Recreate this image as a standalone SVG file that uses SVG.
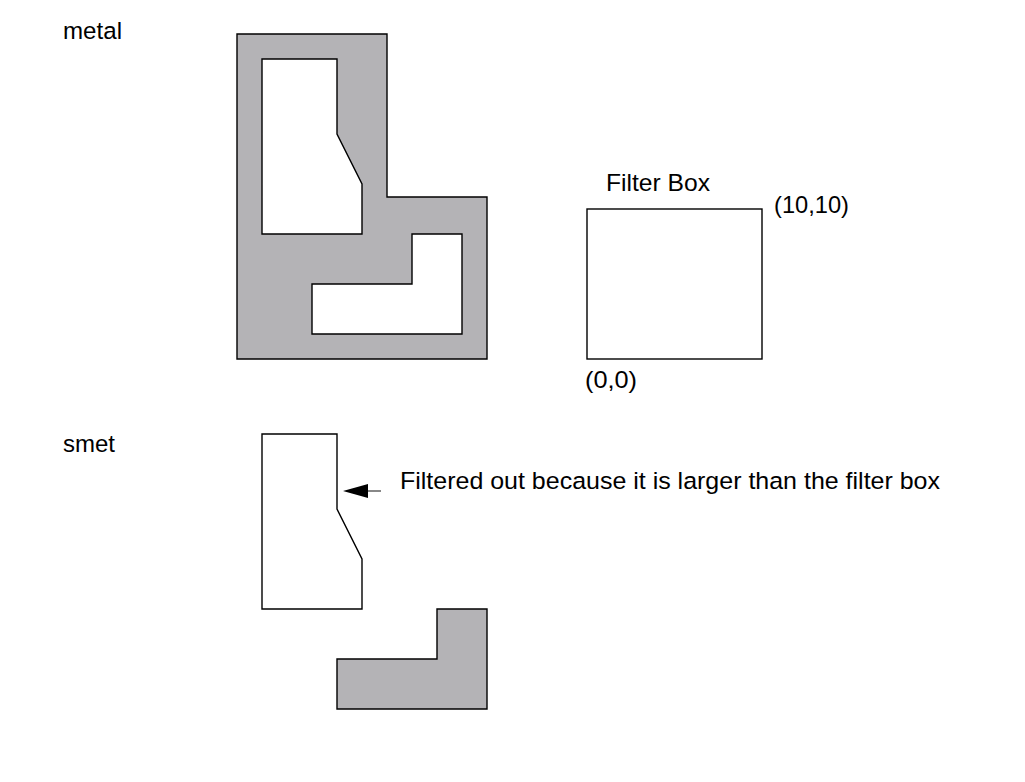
<svg xmlns="http://www.w3.org/2000/svg" width="1025" height="782" viewBox="0 0 1025 782">
<defs>
<style>
.lbl{font-family:"Liberation Sans",Arial,sans-serif;font-size:24.5px;fill:#000}
.shape{stroke:#000;stroke-width:1.4;stroke-linejoin:miter}
.metal{fill:#b4b3b6}
.white{fill:#fff}
</style>
</defs>
<rect width="1025" height="782" fill="#fff"/>
<g id="metal-label"><text class="lbl" x="63" y="39" textLength="59" lengthAdjust="spacingAndGlyphs">metal</text></g>
<g id="metal">
<path class="shape metal" fill-rule="evenodd" d="M237,34 H387 V197 H487 V359 H237 Z M262,59 V234 H362 V184 L337,134 V59 Z M412,234 V284 H312 V334 H462 V234 Z"/>
</g>
<g id="filter-box">
<text class="lbl" x="606" y="190.5" textLength="104" lengthAdjust="spacingAndGlyphs">Filter Box</text>
<rect class="shape white" x="587" y="209" width="175" height="150"/>
<text class="lbl" x="774" y="213" textLength="75" lengthAdjust="spacingAndGlyphs">(10,10)</text>
<text class="lbl" x="585" y="388" textLength="52" lengthAdjust="spacingAndGlyphs">(0,0)</text>
</g>
<g id="smet-label"><text class="lbl" x="63" y="451.5" textLength="52" lengthAdjust="spacingAndGlyphs">smet</text></g>
<g id="smet-filtered">
<path class="shape white" d="M262,434 H337 V509 L362,559 V609 H262 Z"/>
</g>
<g id="smet-kept">
<path class="shape metal" d="M437,609 H487 V709 H337 V659 H437 Z"/>
</g>
<g id="connectors">
<line x1="381" y1="491" x2="366" y2="491" stroke="#555" stroke-width="1.4"/>
<polygon points="343,491 368,484 368,498" fill="#000"/>
</g>
<g id="note"><text class="lbl" x="400" y="488.5" textLength="540" lengthAdjust="spacingAndGlyphs">Filtered out because it is larger than the filter box</text></g>
</svg>
